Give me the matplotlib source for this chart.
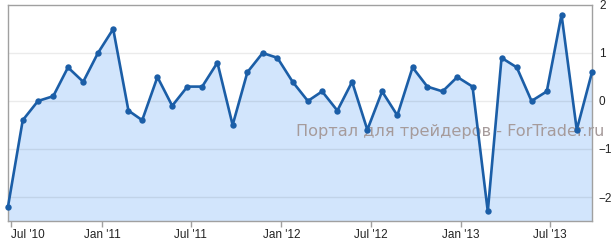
import datetime as dt
import matplotlib
matplotlib.use("Agg")
import matplotlib.pyplot as plt
import matplotlib.dates as mdates
from matplotlib.ticker import FixedLocator, FuncFormatter

# Monthly observations, Jun 2010 .. Sep 2013
start_year, start_month, n_points = 2010, 6, 40
values = [-2.2, -0.4, 0.0, 0.1, 0.7, 0.4, 1.0, 1.5, -0.2, -0.4,
          0.5, -0.1, 0.3, 0.3, 0.8, -0.5, 0.6, 1.0, 0.9, 0.4,
          0.0, 0.2, -0.2, 0.4, -0.6, 0.2, -0.3, 0.7, 0.3, 0.2,
          0.5, 0.3, -2.3, 0.9, 0.7, 0.0, 0.2, 1.8, -0.6, 0.6]
tick_dates = [dt.date(2010, 7, 1), dt.date(2011, 1, 1), dt.date(2011, 7, 1),
              dt.date(2012, 1, 1), dt.date(2012, 7, 1), dt.date(2013, 1, 1),
              dt.date(2013, 7, 1)]
tick_labels = ["Jul '10", "Jan '11", "Jul '11", "Jan '12", "Jul '12", "Jan '13", "Jul '13"]
y_ticks = [-2, -1, 0, 1, 2]
y_min, y_max = -2.5, 2.0
watermark = "Портал для трейдеров - ForTrader.ru"

dates = []
for i in range(n_points):
    m = start_month - 1 + i
    dates.append(dt.date(start_year + m // 12, m % 12 + 1, 24))

W, H = 612, 241
fig = plt.figure(figsize=(W / 100, H / 100), dpi=100)
left, right, top, bottom = 8, 592, 5, 221
ax = fig.add_axes([left / W, 1 - bottom / H, (right - left) / W, (bottom - top) / H])

line_color = "#1b5ea7"
ax.fill_between(dates, values, y_min, color="#d2e5fc", zorder=1, linewidth=0)
for yv in [-2, -1, 0, 1]:
    ax.axhline(yv, color="black", alpha=0.08, linewidth=1.0, zorder=1.5)
ax.plot(dates, values, color=line_color, linewidth=1.9, marker="o",
        markersize=4.6, markeredgewidth=0, zorder=3, clip_on=False)

ax.set_xlim(dates[0], dates[-1])
ax.set_ylim(y_min, y_max)

ax.xaxis.set_major_locator(FixedLocator([mdates.date2num(d) for d in tick_dates]))
ax.set_xticklabels(tick_labels)
ax.yaxis.tick_right()
ax.set_yticks(y_ticks)
ax.yaxis.set_major_formatter(FuncFormatter(lambda v, p: f"{int(v)}".replace("-", "\u2212")))

for s in ax.spines.values():
    s.set_color("#a0a0a0")
    s.set_linewidth(1.0)

font = "Liberation Sans"
ax.tick_params(axis="x", length=4, width=1, color="#a0a0a0", pad=2,
               labelsize=8.5, labelcolor="#222222")
ax.tick_params(axis="y", length=0, pad=5, labelsize=8.5, labelcolor="#222222")
for lab in ax.get_xticklabels() + ax.get_yticklabels():
    lab.set_fontfamily(font)
first = ax.get_xticklabels()[0]
first.set_horizontalalignment("left")

ax.text(296 / W, 1 - 131.5 / H, watermark, transform=fig.transFigure,
        ha="left", va="center", fontsize=11.6, color="#a69b9b",
        family="DejaVu Sans", zorder=2, clip_on=False)

fig.savefig("out.png", dpi=100)
